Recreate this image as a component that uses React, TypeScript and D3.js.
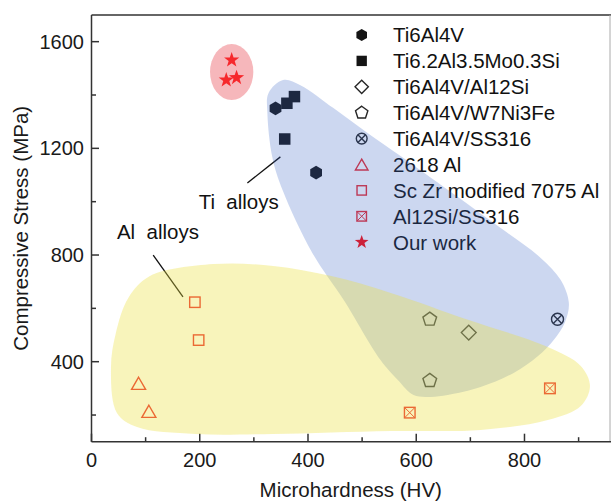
import React from "react";
import * as d3 from "d3";

const W = 611;
const H = 504;
const plot = { left: 91.5, right: 610, top: 15, bottom: 441.7 };

// axis ticks
const xMajor = [0, 200, 400, 600, 800];
const xMinor = [100, 300, 500, 700, 900];
const yMajor = [400, 800, 1200, 1600];
const yMinor = [200, 600, 1000, 1400];

// series values: [microhardness HV, compressive stress MPa]
const ti6al4v: [number, number][] = [[340, 1350], [415, 1109]];
const ti62al: [number, number][] = [[375, 1394], [361, 1369], [357, 1235]];
const tiAl12Si: [number, number][] = [[697, 509]];
const tiW7Ni3Fe: [number, number][] = [[625, 559], [625, 329]];
const tiSS316: [number, number][] = [[861, 559]];
const al2618: [number, number][] = [[87, 319], [106, 214]];
const scZr7075: [number, number][] = [[191, 623], [198, 481]];
const al12SiSS316: [number, number][] = [[588, 209], [847, 300]];
const ourWork: [number, number][] = [[259, 1531], [249, 1456], [268, 1465]];

// shaded groupings (outline points in data units)
const tiRegion: [number, number][] = [
  [354, 1456], [386, 1437], [447, 1351], [510, 1258], [571, 1171], [664, 1036],
  [756, 901], [830, 789], [867, 706], [882, 620], [875, 549], [854, 481],
  [825, 421], [780, 358], [719, 305], [658, 275], [627, 268], [595, 275],
  [566, 331], [534, 406], [466, 631], [408, 808], [353, 1044], [334, 1168],
  [325, 1332], [327, 1407],
];
const alRegion: [number, number][] = [
  [108, 721], [225, 766], [336, 759], [443, 721], [553, 658], [697, 556],
  [843, 455], [904, 384], [921, 309], [904, 234], [843, 181], [719, 144],
  [553, 140], [336, 129], [192, 129], [84, 155], [47, 208], [36, 380],
  [45, 508], [68, 639],
];
const ourRegion = { cx: 259, cy: 1486, rx: 40, ry: 105 };

const tiLeader: [number, number][] = [[288, 1070], [349, 1168]];
const alLeader: [number, number][] = [[114, 800], [169, 643]];
const tiLabel = { text: "Ti  alloys", x: 198, y: 973 };
const alLabel = { text: "Al  alloys", x: 47, y: 860 };

const x = d3.scaleLinear().domain([0, 958]).range([plot.left, plot.right]);
const y = d3.scaleLinear().domain([100, 1700]).range([plot.bottom, plot.top]);

const FONT = "'Liberation Sans', Arial, Helvetica, sans-serif";
const RED = "#eb2a30";
const DARK = "#141414";
const STAR_RED = "#ff0a0a";

type Shape = "hex" | "square" | "diamond" | "pentagon" | "circleX" | "triangle" | "squareX" | "star";

const series: {
  name: string; data: [number, number][]; shape: Shape; filled: boolean; color: string;
}[] = [
  { name: "Ti6Al4V", data: ti6al4v, shape: "hex", filled: true, color: DARK },
  { name: "Ti6.2Al3.5Mo0.3Si", data: ti62al, shape: "square", filled: true, color: DARK },
  { name: "Ti6Al4V/Al12Si", data: tiAl12Si, shape: "diamond", filled: false, color: "#262626" },
  { name: "Ti6Al4V/W7Ni3Fe", data: tiW7Ni3Fe, shape: "pentagon", filled: false, color: "#262626" },
  { name: "Ti6Al4V/SS316", data: tiSS316, shape: "circleX", filled: false, color: "#262626" },
  { name: "2618 Al", data: al2618, shape: "triangle", filled: false, color: RED },
  { name: "Sc Zr modified 7075 Al", data: scZr7075, shape: "square", filled: false, color: RED },
  { name: "Al12Si/SS316", data: al12SiSS316, shape: "squareX", filled: false, color: RED },
  { name: "Our work", data: ourWork, shape: "star", filled: true, color: STAR_RED },
];

function polygon(n: number, r: number, start = -90) {
  const pts = d3.range(n).map((i) => {
    const a = ((start + (360 / n) * i) * Math.PI) / 180;
    return [r * Math.cos(a), r * Math.sin(a)];
  });
  return "M" + pts.map((p) => p.join(",")).join("L") + "Z";
}

function starPath(R: number) {
  const r = R * 0.4;
  const pts = d3.range(10).map((i) => {
    const rad = i % 2 === 0 ? R : r;
    const a = ((-90 + 36 * i) * Math.PI) / 180;
    return [rad * Math.cos(a), rad * Math.sin(a)];
  });
  return "M" + pts.map((p) => p.join(",")).join("L") + "Z";
}

function Marker({ shape, filled, color, cx, cy, scale = 1 }: {
  shape: Shape; filled: boolean; color: string; cx: number; cy: number; scale?: number;
}) {
  const fill = filled ? color : "none";
  const sw = 1.4;
  const t = `translate(${cx},${cy})`;
  switch (shape) {
    case "hex":
      return <path transform={t} d={polygon(6, 6.8 * scale)} fill={fill} />;
    case "square": {
      const s = (filled ? 11.5 : 10.4) * scale;
      return <rect x={cx - s / 2} y={cy - s / 2} width={s} height={s}
        fill={fill} stroke={filled ? "none" : color} strokeWidth={sw} />;
    }
    case "diamond":
      return <path transform={t} d={polygon(4, 7.4 * scale)} fill="none" stroke={color} strokeWidth={sw} />;
    case "pentagon":
      return <path transform={t} d={polygon(5, 7.2 * scale)} fill="none" stroke={color} strokeWidth={sw} />;
    case "circleX": {
      const r = 6 * scale;
      const k = r * 0.7071;
      return (
        <g transform={t} fill="none" stroke={color} strokeWidth={sw}>
          <circle r={r} />
          <path d={`M${-k},${-k}L${k},${k}M${-k},${k}L${k},${-k}`} />
        </g>
      );
    }
    case "triangle": {
      const s = 14 * scale;
      const h = s * 0.866;
      return <path transform={t} d={`M0,${-h / 2}L${s / 2},${h / 2}L${-s / 2},${h / 2}Z`}
        fill="none" stroke={color} strokeWidth={sw} />;
    }
    case "squareX": {
      const s = 10.6 * scale;
      const k = s / 2;
      return (
        <g transform={t} fill="none" stroke={color} strokeWidth={sw}>
          <rect x={-k} y={-k} width={s} height={s} />
          <path d={`M${-k},${-k}L${k},${k}M${-k},${k}L${k},${-k}`} strokeWidth={1} />
        </g>
      );
    }
    case "star":
      return <path transform={t} d={starPath(8 * scale)} fill={fill} />;
  }
  return null;
}

export default function App() {
  const closed = d3.line<[number, number]>()
    .x((d) => x(d[0]))
    .y((d) => y(d[1]))
    .curve(d3.curveCatmullRomClosed.alpha(0.5));

  const legendX = 361.7;
  const legendTextX = 393;
  const legendY0 = 35;
  const legendStep = 25.9;

  const axisColor = "#333";

  return (
    <svg width={W} height={H} style={{ position: "fixed", left: 0, top: 0, background: "#fff" }}
      fontFamily={FONT}>
      <rect width={W} height={H} fill="#fff" />

      {/* frame */}
      <line x1={plot.left} x2={plot.right + 1} y1={plot.top} y2={plot.top} stroke={axisColor} strokeWidth={1.5} />
      <line x1={plot.right} x2={plot.right} y1={plot.top} y2={plot.bottom} stroke="#aaa" strokeWidth={1} />
      <line x1={plot.left} x2={plot.right + 1} y1={plot.bottom} y2={plot.bottom} stroke={axisColor} strokeWidth={1.5} />
      <line x1={plot.left} x2={plot.left} y1={plot.top} y2={plot.bottom} stroke={axisColor} strokeWidth={1.5} />

      {/* x ticks */}
      {xMajor.map((v) => (
        <g key={"xm" + v}>
          <line x1={x(v)} x2={x(v)} y1={plot.bottom} y2={plot.bottom - 8} stroke={axisColor} strokeWidth={1.5} />
          <text x={x(v)} y={plot.bottom + 25.5} textAnchor="middle" fontSize={20} fill="#1a1a1a">{v}</text>
        </g>
      ))}
      {xMinor.map((v) => (
        <line key={"xn" + v} x1={x(v)} x2={x(v)} y1={plot.bottom} y2={plot.bottom - 4.5} stroke={axisColor} strokeWidth={1.5} />
      ))}

      {/* y ticks */}
      {yMajor.map((v) => (
        <g key={"ym" + v}>
          <line x1={plot.left} x2={plot.left + 7.5} y1={y(v)} y2={y(v)} stroke={axisColor} strokeWidth={1.5} />
          <text x={84} y={y(v)} dy="0.35em" textAnchor="end" fontSize={20} fill="#1a1a1a">{v}</text>
        </g>
      ))}
      {yMinor.map((v) => (
        <line key={"yn" + v} x1={plot.left} x2={plot.left + 4.5} y1={y(v)} y2={y(v)} stroke={axisColor} strokeWidth={1.5} />
      ))}

      {/* axis titles */}
      <text x={(plot.left + plot.right) / 2} y={497} textAnchor="middle" fontSize={20.5} fill="#1a1a1a">
        Microhardness (HV)
      </text>
      <text transform={`translate(28,${(plot.top + plot.bottom) / 2}) rotate(-90)`} textAnchor="middle"
        fontSize={20.5} fill="#1a1a1a">
        Compressive Stress (MPa)
      </text>

      {/* legend */}
      {series.map((s, i) => {
        const ly = legendY0 + i * legendStep;
        return (
          <g key={"lg" + s.name}>
            <Marker shape={s.shape} filled={s.filled} color={s.color} cx={legendX} cy={ly} scale={0.9} />
            <text x={legendTextX} y={ly} dy="0.36em" fontSize={20.5} fill="#111">{s.name}</text>
          </g>
        );
      })}

      {/* data points */}
      {series.map((s) =>
        s.data.map((d, j) => (
          <Marker key={s.name + j} shape={s.shape} filled={s.filled} color={s.color}
            cx={x(d[0])} cy={y(d[1])} />
        ))
      )}

      {/* annotations */}
      <line x1={x(tiLeader[0][0])} y1={y(tiLeader[0][1])} x2={x(tiLeader[1][0])} y2={y(tiLeader[1][1])}
        stroke="#111" strokeWidth={1.3} />
      <line x1={x(alLeader[0][0])} y1={y(alLeader[0][1])} x2={x(alLeader[1][0])} y2={y(alLeader[1][1])}
        stroke="#111" strokeWidth={1.3} />
      <text x={x(tiLabel.x)} y={y(tiLabel.y)} fontSize={20.5} fill="#111" style={{ whiteSpace: "pre" }}>
        {tiLabel.text}
      </text>
      <text x={x(alLabel.x)} y={y(alLabel.y)} fontSize={20.5} fill="#111" style={{ whiteSpace: "pre" }}>
        {alLabel.text}
      </text>

      {/* translucent group regions */}
      <path d={closed(tiRegion) || ""} fill="#3a64c4" fillOpacity={0.26} />
      <path d={closed(alRegion) || ""} fill="#ebdf3d" fillOpacity={0.35} />
      <ellipse cx={x(ourRegion.cx)} cy={y(ourRegion.cy)}
        rx={x(ourRegion.cx + ourRegion.rx) - x(ourRegion.cx)}
        ry={y(ourRegion.cy - ourRegion.ry) - y(ourRegion.cy)}
        fill="#e9545e" fillOpacity={0.42} />
    </svg>
  );
}
